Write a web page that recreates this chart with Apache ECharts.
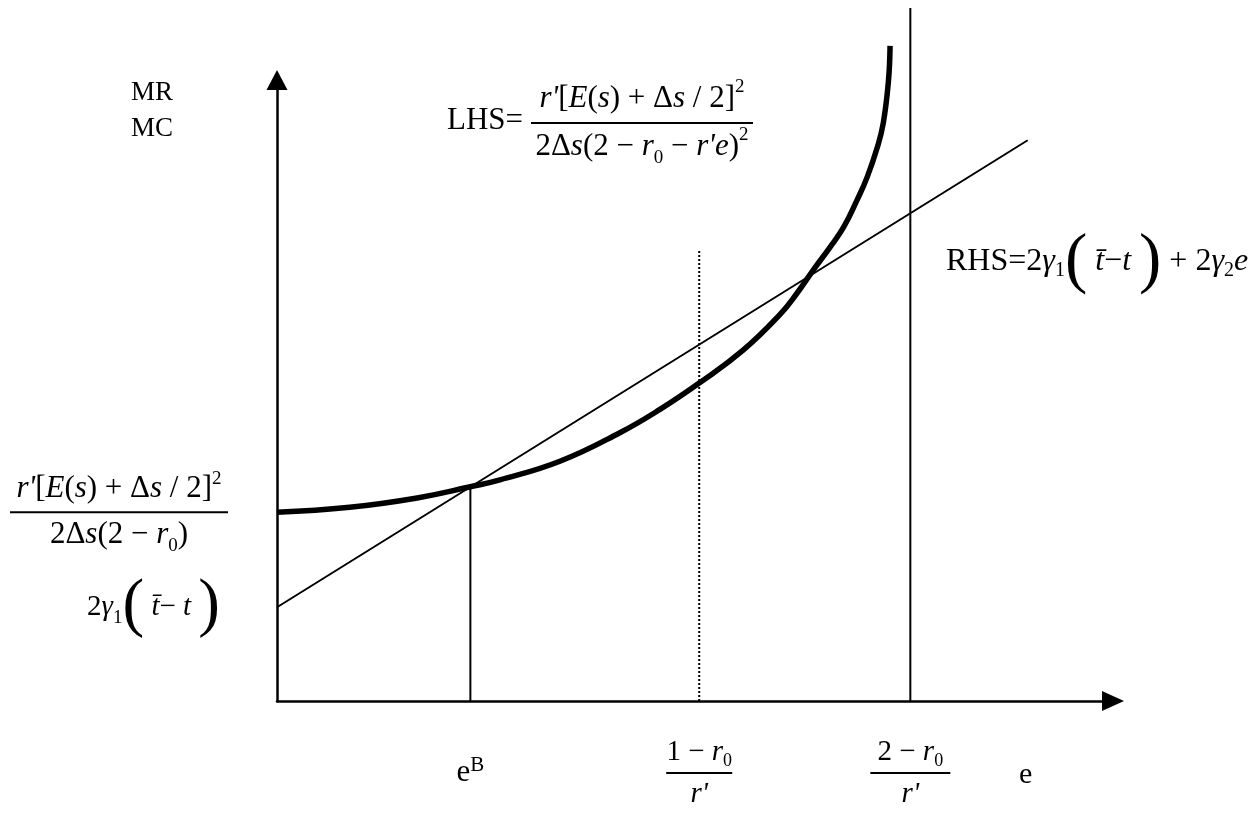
<!DOCTYPE html>
<html><head><meta charset="utf-8">
<script src="https://cdn.jsdelivr.net/npm/echarts@6/dist/echarts.min.js"></script>
<style>html,body{margin:0;padding:0;background:#fff}#c{width:1257px;height:823px}</style>
</head><body><div id="c"></div>
<script>
// ---- data ----
const curveX = [0, 8.6, 16.6, 22.9, 26.4, 33.5, 40.6, 45.4, 50.0, 55.2, 59.6, 61.6, 63.5, 65.5, 67.1, 68.7, 69.9, 71.1, 71.8, 72.4, 72.6];
const curveY = [30.4, 31.2, 32.7, 34.5, 35.6, 38.6, 43.2, 47.0, 51.2, 56.5, 62.3, 65.7, 69.4, 73.1, 76.3, 80.7, 84.4, 89.2, 93.1, 99.7, 105.5];
const rhsX = [0, 88.9];
const rhsY = [15.1, 90.3];
const vLineX = [22.9, 50, 75];
const vLineTop = [34.5, 72.6, 111.6];
const xTickValues = [22.9, 50, 75];
const xTickLabels = [
  '{e|e}{eb|B}',
  '{n|1 − }{i|r}{sub|0}\n{barA| }\n{i|r\'}',
  '{n|2 − }{i|r}{sub|0}\n{barB| }\n{i|r\'}'
];
const yTickValues = [30.4, 15.1];
const yTickLabels = [
  '{i|r\'}{n|[}{i|E}{n|(}{i|s}{n|) + Δ}{i|s}{n| / 2]}{sup|2}\n{barC| }\n{n|2Δ}{i|s}{n|(2 − }{i|r}{sub|0}{n|)}',
  '{m|2}{mi|γ}{sub|1}{bp|(}{mi| t\u0304}{m|− }{mi|t }{bp|)}{sp| }'
];
const lhsText = '{i|r\'}{n|[}{i|E}{n|(}{i|s}{n|) + Δ}{i|s}{n| / 2}{n|]}{sup|2}\n{bar| }\n{n|2Δ}{i|s}{n|(2 − }{i|r}{sub|0}{n| − }{i|r\'e}{n|)}{sup|2}';
const rhsText = '{n|RHS=2}{i|γ}{sub|1}{bp|(}{i| t\u0304}{n|−}{i|t }{bp|)}{n| + 2}{i|γ}{sub|2}{i|e}';

const FF = '"Liberation Serif","Times New Roman",serif';
function richSet(fs, bars, lh) {
  const L = lh || fs + 6;
  const s = Math.round(fs * 0.62);
  const r = {
    n: {fontFamily: FF, fontSize: fs, color: '#000', align: 'center', lineHeight: L},
    i: {fontFamily: FF, fontSize: fs, fontStyle: 'italic', color: '#000', align: 'center', lineHeight: L},
    m: {fontFamily: FF, fontSize: fs - 2, color: '#000', align: 'center', lineHeight: L},
    mi: {fontFamily: FF, fontSize: fs - 2, fontStyle: 'italic', color: '#000', align: 'center', lineHeight: L},
    e: {fontFamily: FF, fontSize: fs + 2, color: '#000', align: 'center', lineHeight: L},
    eb: {fontFamily: FF, fontSize: Math.round(fs * 0.72), color: '#000', align: 'center', verticalAlign: 'top', lineHeight: s},
    sub: {fontFamily: FF, fontSize: s, color: '#000', align: 'center', verticalAlign: 'bottom', lineHeight: s},
    sup: {fontFamily: FF, fontSize: s, color: '#000', align: 'center', verticalAlign: 'top', lineHeight: s},
    bp: {fontFamily: FF, fontSize: Math.round(fs * 2.1), color: '#000', align: 'center', lineHeight: L},
    sp: {width: 8, align: 'center'}
  };
  Object.keys(bars || {}).forEach(k => {
    r[k] = {width: bars[k], height: 2, lineHeight: 6, backgroundColor: '#000', align: 'center', fontSize: 2};
  });
  return r;
}

const chart = echarts.init(document.getElementById('c'));
const series = [
  {type: 'line', data: curveX.map((x, i) => [x, curveY[i]]), smooth: 0.45, symbol: 'none', clip: false,
   lineStyle: {color: '#000', width: 5.5}, z: 4},
  {type: 'line', data: rhsX.map((x, i) => [x, rhsY[i]]), symbol: 'none', clip: false,
   lineStyle: {color: '#000', width: 2}, z: 3}
];
vLineX.forEach((x, i) => {
  series.push({type: 'line', data: [[x, 0], [x, vLineTop[i]]], symbol: 'none', clip: false,
    lineStyle: {color: '#000', width: 2, type: i === 1 ? [2, 2] : 'solid'}, z: 2});
});

chart.setOption({
  animation: false,
  backgroundColor: '#fff',
  grid: {left: 277, right: 144, top: 80, bottom: 122, outerBoundsMode: 'none'},
  xAxis: {
    type: 'value', min: 0, max: 99,
    axisLine: {show: true, onZero: false, symbol: ['none', 'triangle'], symbolSize: [20, 22], lineStyle: {color: '#000', width: 2.5}},
    axisTick: {show: false}, splitLine: {show: false},
    axisLabel: {
      customValues: xTickValues, margin: 72, verticalAlign: 'middle',
      formatter: v => { const k = xTickValues.findIndex(t => Math.abs(t - v) < 1e-6); return k >= 0 ? xTickLabels[k] : ''; },
      rich: richSet(29, {barA: 66, barB: 80}, 36)
    },
    name: '{n|e}', nameLocation: 'end', nameGap: -94,
    nameTextStyle: {align: 'left', verticalAlign: 'middle', padding: [148, 0, 0, 0], rich: richSet(30)}
  },
  yAxis: {
    type: 'value', min: 0, max: 100,
    axisLine: {show: true, onZero: false, symbol: ['none', 'triangle'], symbolSize: [21, 20], lineStyle: {color: '#000', width: 2.5}},
    axisTick: {show: false}, splitLine: {show: false},
    axisLabel: {
      customValues: yTickValues, margin: 49,
      formatter: v => { const k = yTickValues.findIndex(t => Math.abs(t - v) < 1e-6); return k >= 0 ? yTickLabels[k] : ''; },
      rich: richSet(31, {barC: 218}, 40)
    },
    name: '{a|MR}\n{a|MC}', nameLocation: 'end', nameGap: 5,
    nameTextStyle: {align: 'right', verticalAlign: 'top', padding: [0, 104, 0, 0],
      rich: {a: {fontFamily: FF, fontSize: 27, lineHeight: 36, align: 'left', color: '#000'}}}
  },
  graphic: [
    {type: 'text', x: 447, y: 121, style: {text: 'LHS=', fontFamily: FF, fontSize: 31, fill: '#000', align: 'left', verticalAlign: 'middle'}},
    {type: 'text', x: 642, y: 123, style: {text: lhsText, align: 'center', verticalAlign: 'middle', rich: richSet(31, {bar: 222}, 42)}},
    {type: 'text', x: 946, y: 262, style: {text: rhsText, align: 'left', verticalAlign: 'middle', rich: richSet(32)}}
  ],
  series: series
});
</script></body></html>
